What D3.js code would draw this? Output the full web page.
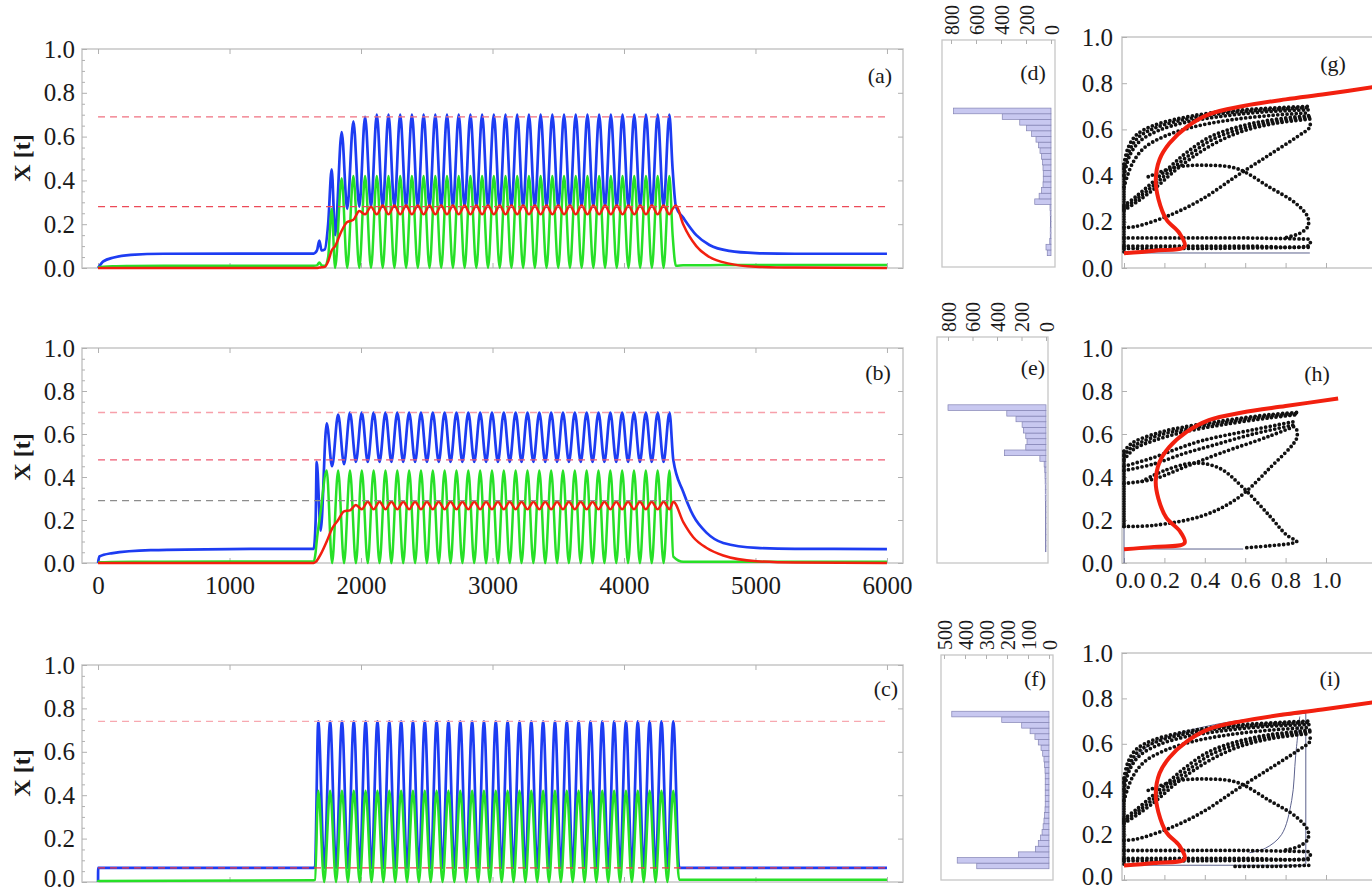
<!DOCTYPE html>
<html>
<head>
<meta charset="utf-8">
<script src="https://cdn.jsdelivr.net/npm/d3@7/dist/d3.min.js"></script>
<style>
  body { margin: 0; background: #fff; }
  svg text { font-family: "Liberation Serif", "Times New Roman", "DejaVu Serif", serif !important; fill: #1a1a1a; }
</style>
</head>
<body>
<div id="container"></div>
<script>
// ---- time series data ----
var tA = [0,40,120,250,500,1640,1665,1683,1700,1725,1750,1777,1803,1853,1895,1942,1987,2031,2076,
  2120,2165,2209,2254,2298,2343,2387,2432,2476,2521,2565,2610,2654,2699,2743,2788,2832,2877,2921,2966,
  3010,3055,3099,3144,3188,3233,3277,3322,3366,3411,3455,3500,3544,3589,3633,3678,3722,3767,3811,3856,
  3900,3945,3989,4034,4078,4123,4167,4212,4256,4301,4345,
  4370,4395,4450,4550,4650,4800,5000,5300,6000];
var blueA = [0,0.03,0.048,0.06,0.065,0.066,0.08,0.125,0.08,0.085,0.2,0.45,0.15,0.62,0.27,0.67,0.28,0.69,0.28,
  0.70,0.28,0.70,0.28,0.70,0.28,0.70,0.28,0.70,0.28,0.70,0.28,0.70,0.28,0.70,0.28,0.70,0.28,0.70,0.28,
  0.70,0.28,0.70,0.28,0.70,0.28,0.70,0.28,0.70,0.28,0.70,0.28,0.70,0.28,0.70,0.28,0.70,0.28,0.70,0.28,
  0.70,0.28,0.70,0.28,0.70,0.28,0.70,0.28,0.70,0.28,0.70,
  0.45,0.28,0.23,0.15,0.105,0.078,0.068,0.065,0.065];
var greenA = [0.003,0.006,0.008,0.009,0.01,0.01,0.012,0.025,0.012,0.01,0.05,0.27,0,0.41,0,0.42,0,0.42,0,
  0.42,0,0.42,0,0.42,0,0.42,0,0.42,0,0.42,0,0.42,0,0.42,0,0.42,0,0.42,0,
  0.42,0,0.42,0,0.42,0,0.42,0,0.42,0,0.42,0,0.42,0,0.42,0,0.42,0,0.42,0,
  0.42,0,0.42,0,0.42,0,0.42,0,0.42,0,0.42,
  0.15,0.01,0.012,0.013,0.013,0.014,0.014,0.014,0.014];
var redA = [0,0,0,0,0,0,0,0.002,0.003,0.005,0.03,0.08,0.1,0.17,0.21,0.22,0.26,0.245,0.28,
  0.245,0.285,0.245,0.285,0.245,0.285,0.245,0.285,0.245,0.285,0.245,0.285,0.245,0.285,0.245,0.285,0.245,0.285,0.245,0.285,
  0.245,0.285,0.245,0.285,0.245,0.285,0.245,0.285,0.245,0.285,0.245,0.285,0.245,0.285,0.245,0.285,0.245,0.285,0.245,0.285,
  0.245,0.285,0.245,0.285,0.245,0.285,0.245,0.285,0.245,0.285,0.245,
  0.27,0.285,0.2,0.1,0.05,0.02,0.006,0.002,0];

var tB = [0,10,100,400,1000,1640,1655,1663,1693,1739,1780,
  1826,1871,1916,1961,2006,2051,2096,2141,2186,2231,2276,2321,2366,2411,2456,2501,2546,2591,2636,2681,
  2726,2771,2816,2861,2906,2951,2996,3041,3086,3131,3176,3221,3266,3311,3356,3401,3446,3491,3536,3581,
  3626,3671,3716,3761,3806,3851,3896,3941,3986,4031,4076,4121,4166,4211,4256,4301,4346,
  4375,4451,4527,4629,4755,5009,5300,6000];
var blueB = [0,0.03,0.045,0.06,0.065,0.066,0.2,0.47,0.15,0.65,0.45,
  0.69,0.46,0.70,0.47,0.70,0.47,0.70,0.47,0.70,0.47,0.70,0.47,0.70,0.47,0.70,0.47,0.70,0.47,0.70,0.47,
  0.70,0.47,0.70,0.47,0.70,0.47,0.70,0.47,0.70,0.47,0.70,0.47,0.70,0.47,0.70,0.47,0.70,0.47,0.70,0.47,
  0.70,0.47,0.70,0.47,0.70,0.47,0.70,0.47,0.70,0.47,0.70,0.47,0.70,0.47,0.70,0.47,0.70,
  0.48,0.33,0.22,0.14,0.093,0.07,0.066,0.065];
var greenB = [0.002,0.003,0.005,0.006,0.007,0.007,0.05,0.1,0.24,0.43,0,
  0.43,0,0.43,0,0.43,0,0.43,0,0.43,0,0.43,0,0.43,0,0.43,0,0.43,0,0.43,0,
  0.43,0,0.43,0,0.43,0,0.43,0,0.43,0,0.43,0,0.43,0,0.43,0,0.43,0,0.43,0,
  0.43,0,0.43,0,0.43,0,0.43,0,0.43,0,0.43,0,0.43,0,0.43,0,0.43,
  0.03,0.006,0.006,0.006,0.006,0.006,0.006,0.006];
var redB = [0,0,0,0,0,0,0.005,0.01,0.04,0.1,0.16,
  0.2,0.24,0.245,0.27,0.25,0.285,0.25,0.285,0.25,0.285,0.25,0.285,0.25,0.285,0.25,0.285,0.25,0.285,0.25,0.285,
  0.25,0.285,0.25,0.285,0.25,0.285,0.25,0.285,0.25,0.285,0.25,0.285,0.25,0.285,0.25,0.285,0.25,0.285,0.25,0.285,
  0.25,0.285,0.25,0.285,0.25,0.285,0.25,0.285,0.25,0.285,0.25,0.285,0.25,0.285,0.25,0.285,0.25,
  0.285,0.19,0.12,0.07,0.035,0.008,0.002,0];

var tC = [0,1,1640,1650,
  1675,1720,1765,1810,1855,1900,1945,1990,2035,2080,2125,2170,2215,2260,2305,2350,2395,2440,2485,2530,
  2575,2620,2665,2710,2755,2800,2845,2890,2935,2980,3025,3070,3115,3160,3205,3250,3295,3340,3385,3430,
  3475,3520,3565,3610,3655,3700,3745,3790,3835,3880,3925,3970,4015,4060,4105,4150,4195,4240,4285,4330,4375,
  4420,6000];
var blueC = [0,0.065,0.065,0.07,
  0.74,0.065,0.74,0.065,0.74,0.065,0.74,0.065,0.74,0.065,0.74,0.065,0.74,0.065,0.74,0.065,0.74,0.065,0.74,0.065,
  0.74,0.065,0.74,0.065,0.74,0.065,0.74,0.065,0.74,0.065,0.74,0.065,0.74,0.065,0.74,0.065,0.74,0.065,0.74,0.065,
  0.74,0.065,0.74,0.065,0.74,0.065,0.74,0.065,0.74,0.065,0.74,0.065,0.74,0.065,0.74,0.065,0.74,0.065,0.74,0.065,0.74,
  0.065,0.065];
var greenC = [0,0.005,0.008,0.01,
  0.42,0,0.42,0,0.42,0,0.42,0,0.42,0,0.42,0,0.42,0,0.42,0,0.42,0,0.42,0,
  0.42,0,0.42,0,0.42,0,0.42,0,0.42,0,0.42,0,0.42,0,0.42,0,0.42,0,0.42,0,
  0.42,0,0.42,0,0.42,0,0.42,0,0.42,0,0.42,0,0.42,0,0.42,0,0.42,0,0.42,0,0.42,
  0.01,0.01];

// dashed reference levels
var refA = [0.69, 0.28], refColA = ["#f07080", "#ec4a58"];
var refB = [0.70, 0.48, 0.29], refColB = ["#f7a0aa", "#ee5a72", "#8c8c8c"];
var refC = [0.74, 0.065], refColC = ["#f7a8b0", "#ee3a48"];

// ---- histograms: bin lower edges (width 0.025) and counts ----
var binsD = [0.05,0.075,0.1,0.125,0.15,0.175,0.2,0.225,0.25,0.275,0.3,0.325,0.35,0.375,0.4,0.425,0.45,0.475,0.5,0.525,0.55,0.575,0.6,0.625,0.65,0.675];
var countD = [30,40,10,6,6,5,5,6,8,130,95,75,64,62,62,64,68,76,88,100,120,155,195,250,390,780];
var countE = [3,4,4,4,4,4,5,5,5,6,6,6,7,8,10,15,50,340,165,155,165,185,195,245,320,800];
var binsF = [0.05,0.075,0.1,0.125,0.15,0.175,0.2,0.225,0.25,0.275,0.3,0.325,0.35,0.375,0.4,0.425,0.45,0.475,0.5,0.525,0.55,0.575,0.6,0.625,0.65,0.675,0.7,0.725];
var countF = [344,437,146,65,51,40,33,28,24,21,19,18,18,18,18,18,18,19,21,24,30,38,51,67,90,130,225,463];

// ---- phase plane traces ----
var nullcline = [[0,0.064],[0.15,0.075],[0.30,0.093],[0.275,0.15],[0.21,0.21],[0.17,0.30],[0.157,0.38],[0.176,0.47],
  [0.225,0.54],[0.31,0.61],[0.42,0.665],[0.585,0.70],[0.80,0.73],[1.0,0.753],[1.25,0.785]];
var nullclineH = [[0,0.064],[0.15,0.075],[0.30,0.093],[0.275,0.15],[0.21,0.21],[0.17,0.30],[0.157,0.38],[0.176,0.47],
  [0.225,0.54],[0.31,0.61],[0.42,0.665],[0.585,0.70],[0.80,0.73],[1.06,0.765]];

var gTop1 = [[0,0.45],[0.02,0.52],[0.06,0.575],[0.14,0.615],[0.26,0.645],[0.42,0.67],[0.64,0.688],[0.92,0.70]];
var gTop1b = [[0,0.43],[0.025,0.505],[0.07,0.565],[0.15,0.605],[0.27,0.637],[0.43,0.663],[0.65,0.682],[0.92,0.695]];
var gTop2 = [[0,0.40],[0.03,0.49],[0.08,0.55],[0.17,0.595],[0.3,0.63],[0.47,0.655],[0.68,0.675],[0.92,0.685]];
var gTop3 = [[0,0.35],[0.04,0.45],[0.1,0.52],[0.2,0.57],[0.34,0.61],[0.52,0.64],[0.72,0.66],[0.92,0.672]];
var gMid1 = [[0,0.27],[0.06,0.31],[0.14,0.37],[0.23,0.44],[0.31,0.5],[0.42,0.565],[0.56,0.61],[0.72,0.64],[0.92,0.66]];
var gMid1b = [[0,0.26],[0.065,0.3],[0.15,0.36],[0.24,0.43],[0.325,0.49],[0.435,0.555],[0.57,0.6],[0.73,0.632],[0.92,0.653]];
var gMid2 = [[0,0.25],[0.07,0.29],[0.16,0.35],[0.25,0.42],[0.34,0.48],[0.45,0.54],[0.58,0.59],[0.74,0.625],[0.92,0.645]];
var gDiag = [[0,0.175],[0.06,0.18],[0.23,0.23],[0.39,0.30],[0.56,0.40],[0.72,0.49],[0.86,0.57],[0.92,0.61],[0.92,0.635]];
var gArc = [[0.12,0.395],[0.25,0.435],[0.4,0.445],[0.56,0.43],[0.72,0.35],[0.85,0.28],[0.91,0.22],[0.91,0.18],[0.87,0.15],[0.8,0.132]];
var gLow1 = [[0,0.13],[0.3,0.13],[0.6,0.13],[0.92,0.125]];
var gLow2 = [[0,0.095],[0.3,0.095],[0.6,0.095],[0.92,0.1],[0.92,0.12]];
var gLow3 = [[0,0.085],[0.4,0.085],[0.92,0.09]];
var gVert = [[0,0.07],[0,0.45]];
var gThin = [[[0,0.065],[0.92,0.065]]];

var hTop1 = [[0,0.52],[0.03,0.55],[0.063,0.57],[0.15,0.60],[0.228,0.62],[0.475,0.66],[0.72,0.69],[0.855,0.70]];
var hTop1b = [[0,0.50],[0.04,0.54],[0.08,0.56],[0.16,0.59],[0.24,0.61],[0.48,0.652],[0.72,0.683],[0.855,0.695]];
var hTop2 = [[0,0.48],[0.05,0.53],[0.15,0.57],[0.3,0.61],[0.5,0.645],[0.72,0.675],[0.855,0.69]];
var hMid1 = [[0,0.45],[0.145,0.49],[0.26,0.53],[0.39,0.57],[0.64,0.62],[0.855,0.66]];
var hMid2 = [[0,0.43],[0.145,0.46],[0.3,0.51],[0.45,0.55],[0.64,0.60],[0.855,0.645]];
var hLow = [[0,0.37],[0.145,0.39],[0.31,0.45],[0.475,0.51],[0.72,0.59],[0.855,0.64]];
var hArc = [[0.09,0.38],[0.2,0.43],[0.35,0.465],[0.475,0.44],[0.59,0.35],[0.72,0.22],[0.805,0.13],[0.855,0.10],[0.82,0.09],[0.72,0.08],[0.59,0.07]];
var hDiag = [[0,0.17],[0.145,0.175],[0.39,0.22],[0.56,0.30],[0.72,0.44],[0.855,0.58],[0.855,0.62]];
var hVert = [[0,0.17],[0,0.52]];
var hThin = [[[0,0.065],[0.59,0.065]], [[0,0],[0,0.52]]];

var iLow4 = [[0.55,0.06],[0.75,0.06],[0.92,0.065]];
var iThin = [
  [[0,0.07],[0,0.42],[0.03,0.5],[0.09,0.57],[0.2,0.625],[0.35,0.665],[0.55,0.7],[0.75,0.72],[0.9,0.735]],
  [[0.9,0.735],[0.9,0.07]],
  [[0,0.065],[0.9,0.065]],
  [[0.62,0.12],[0.7,0.14],[0.78,0.2],[0.83,0.35],[0.85,0.55],[0.87,0.72]]
];

var dotsG = [gTop1, gTop1b, gTop2, gTop3, gMid1, gMid1b, gMid2, gDiag, gArc, gLow1, gLow2, gLow3];
var dotsH = [hTop1, hTop1b, hTop2, hMid1, hMid2, hLow, hArc, hDiag];
var dotsI = [gTop1, gTop1b, gTop2, gTop3, gMid1, gMid1b, gMid2, gDiag, gArc, gLow1, gLow2, gLow3, iLow4];

var yTicks = [0, 0.2, 0.4, 0.6, 0.8, 1.0];
var yMinor = [0.05,0.1,0.15,0.25,0.3,0.35,0.45,0.5,0.55,0.65,0.7,0.75,0.85,0.9,0.95];
var tTicks = [0, 1000, 2000, 3000, 4000, 5000, 6000];
var pTicks = [0, 0.2, 0.4, 0.6, 0.8, 1.0];

// ---- drawing ----
var W = 1372, H = 893;
var svg = d3.select("#container").append("svg").attr("width", W).attr("height", H);
var serif = '"Liberation Serif", "Times New Roman", "DejaVu Serif", serif';
var frameCol = "#c6c6c6", tickCol = "#b0b0b0";
var f1 = d3.format(".1f");

var xT = d3.scaleLinear().domain([-122, 6122]).range([82, 903]);

function styleAxis(g, size) {
  g.attr("font-family", null);
  g.select(".domain").remove();
  g.selectAll(".tick line").attr("stroke", tickCol);
  g.selectAll(".tick text").style("font-size", size + "px").style("font-family", serif).attr("fill", "#1a1a1a");
}

function label(g, x, y, txt, size, bold) {
  return g.append("text").attr("x", x).attr("y", y).attr("text-anchor", "middle").attr("dy", "0.35em")
    .style("font-family", serif).style("font-size", size + "px").style("font-weight", bold ? "bold" : "normal")
    .text(txt);
}

function drawSeries(p) {
  var y = d3.scaleLinear().domain([0, 1]).range([p.y0, p.y1]);
  var g = svg.append("g");
  g.append("rect").attr("x", 82).attr("y", p.y1).attr("width", 903 - 82).attr("height", p.y0 - p.y1)
    .attr("fill", "none").attr("stroke", frameCol).attr("stroke-width", 1.5);

  var ya = g.append("g").attr("transform", "translate(82,0)")
    .call(d3.axisLeft(y).tickValues(yTicks).tickFormat(f1).tickSize(-5).tickPadding(7));
  styleAxis(ya, 25);
  if (p.lowLab) ya.selectAll(".tick text").filter(function(d) { return d === 0; }).attr("dy", "0.18em");
  var ym = g.append("g").attr("transform", "translate(82,0)")
    .call(d3.axisLeft(y).tickValues(yMinor).tickFormat("").tickSize(-3));
  styleAxis(ym, 1);
  var yr = g.append("g").attr("transform", "translate(903,0)")
    .call(d3.axisRight(y).tickValues(yTicks).tickFormat("").tickSize(-5));
  styleAxis(yr, 1);

  var xa = g.append("g").attr("transform", "translate(0," + p.y0 + ")")
    .call(d3.axisBottom(xT).tickValues(tTicks).tickFormat(p.xlabels ? d3.format("d") : "").tickSize(-5));
  styleAxis(xa, 25);
  xa.selectAll(".tick text").attr("y", 22).attr("dy", "0.35em");
  var xt = g.append("g").attr("transform", "translate(0," + p.y1 + ")")
    .call(d3.axisTop(xT).tickValues(tTicks).tickFormat("").tickSize(-5));
  styleAxis(xt, 1);

  var line = d3.line().x(function(d) { return xT(d[0]); }).y(function(d) { return y(d[1]); })
    .curve(d3.curveMonotoneX);

  g.append("path").datum(d3.zip(p.t, p.blue)).attr("d", line)
    .attr("fill", "none").attr("stroke", "#1d3cf2").attr("stroke-width", 2.7);
  g.append("path").datum(d3.zip(p.t, p.green)).attr("d", line)
    .attr("fill", "none").attr("stroke", "#27e027").attr("stroke-width", 2.5);
  if (p.red) {
    g.append("path").datum(d3.zip(p.t, p.red)).attr("d", line)
      .attr("fill", "none").attr("stroke", "#f2200f").attr("stroke-width", 2.5);
  }

  g.selectAll(".ref").data(p.refs).enter().append("line")
    .attr("x1", xT(0)).attr("x2", xT(6000))
    .attr("y1", function(d) { return y(d); }).attr("y2", function(d) { return y(d); })
    .attr("stroke", function(d, i) { return p.refCol[i]; })
    .attr("stroke-width", 1.3).attr("stroke-dasharray", "7,5");

  label(g, p.labX, p.labY, p.lab, 22, false);
  label(g, 0, 0, "X [t]", 24, true).attr("transform", "translate(22," + p.ylabY + ") rotate(-90)");
}

function drawHist(p) {
  var y = d3.scaleLinear().domain([0, 1]).range([p.y0, p.y1]);
  var x = d3.scaleLinear().domain([0, p.max]).range([p.zx, p.mx]);
  var g = svg.append("g");
  g.append("rect").attr("x", p.fx0).attr("y", p.y1).attr("width", p.fx1 - p.fx0).attr("height", p.y0 - p.y1)
    .attr("fill", "none").attr("stroke", frameCol).attr("stroke-width", 1.3);

  g.selectAll(".bar").data(d3.zip(p.bins, p.counts)).enter().append("rect")
    .attr("x", function(d) { return x(d[1]); })
    .attr("width", function(d) { return x(0) - x(d[1]); })
    .attr("y", function(d) { return y(d[0] + 0.025); })
    .attr("height", function(d) { return y(d[0]) - y(d[0] + 0.025); })
    .attr("fill", "#c8c8f0").attr("stroke", "#8484b4").attr("stroke-width", 0.7);

  var xa = g.append("g").attr("transform", "translate(0," + p.y1 + ")")
    .call(d3.axisTop(x).tickValues(p.ticks).tickSize(-4));
  styleAxis(xa, 20);
  xa.selectAll(".tick text").attr("transform", "rotate(-90)").attr("text-anchor", "start")
    .attr("x", 5).attr("y", 0).attr("dy", "0.35em");

  label(g, p.labX, p.labY, p.lab, 22, false);
}

var xP = d3.scaleLinear().domain([0, 1]).range([1124, 1326]);

function drawPhase(p) {
  var y = d3.scaleLinear().domain([0, 1]).range([p.y0, p.y1]);
  var g = svg.append("g");
  g.append("rect").attr("x", 1122).attr("y", p.y1).attr("width", 320).attr("height", p.y0 - p.y1)
    .attr("fill", "none").attr("stroke", frameCol).attr("stroke-width", 1.5);

  var ya = g.append("g").attr("transform", "translate(1122,0)")
    .call(d3.axisLeft(y).tickValues(yTicks).tickFormat(f1).tickSize(-5).tickPadding(9));
  styleAxis(ya, 25);
  if (p.lowLab) ya.selectAll(".tick text").filter(function(d) { return d === 0; }).attr("dy", "0.18em");
  var xa = g.append("g").attr("transform", "translate(0," + p.y0 + ")")
    .call(d3.axisBottom(xP).tickValues(pTicks).tickFormat(p.xlabels ? f1 : "").tickSize(-5));
  styleAxis(xa, 24);
  xa.selectAll(".tick text").attr("y", 17).attr("dy", "0.35em")
    .attr("dx", function(d, i) { return i === 0 ? 6 : 0; });

  var curve = d3.line().x(function(d) { return xP(d[0]); }).y(function(d) { return y(d[1]); })
    .curve(d3.curveCatmullRom.alpha(0.5));

  g.selectAll(".thin").data(p.thin).enter().append("path")
    .attr("d", curve).attr("fill", "none").attr("stroke", "#4a5080").attr("stroke-width", 0.9);

  g.append("path").datum(p.vert).attr("d", curve).attr("fill", "none")
    .attr("stroke", "#111").attr("stroke-width", 3.8).attr("stroke-linecap", "round")
    .attr("stroke-dasharray", "0,2.5");

  g.selectAll(".dots").data(p.dots).enter().append("path")
    .attr("d", curve).attr("fill", "none").attr("stroke", "#111").attr("stroke-width", 3.8)
    .attr("stroke-linecap", "round").attr("stroke-dasharray", "0,4.6");

  g.append("path").datum(p.red).attr("d", curve).attr("fill", "none")
    .attr("stroke", "#f2200f").attr("stroke-width", 4);

  label(g, p.labX, p.labY, p.lab, 22, false);
}

drawSeries({t: tA, blue: blueA, green: greenA, red: redA, refs: refA, refCol: refColA,
  y0: 268, y1: 49, lab: "(a)", labX: 880, labY: 75, ylabY: 158, xlabels: false});
drawSeries({t: tB, blue: blueB, green: greenB, red: redB, refs: refB, refCol: refColB,
  y0: 563, y1: 348, lab: "(b)", labX: 878, labY: 372, ylabY: 457, xlabels: true});
drawSeries({t: tC, blue: blueC, green: greenC, red: null, refs: refC, refCol: refColC,
  y0: 882, y1: 665, lab: "(c)", labX: 886, labY: 688, ylabY: 773, xlabels: false, lowLab: true});

drawHist({bins: binsD, counts: countD, max: 800, ticks: [0, 200, 400, 600, 800], zx: 1051, mx: 951,
  fx0: 942, fx1: 1055, y0: 267, y1: 40, lab: "(d)", labX: 1033, labY: 72});
drawHist({bins: binsD, counts: countE, max: 800, ticks: [0, 200, 400, 600, 800], zx: 1046, mx: 948,
  fx0: 937, fx1: 1048, y0: 563, y1: 337, lab: "(e)", labX: 1033, labY: 367});
drawHist({bins: binsF, counts: countF, max: 500, ticks: [0, 100, 200, 300, 400, 500], zx: 1049, mx: 944,
  fx0: 941, fx1: 1053, y0: 880, y1: 655, lab: "(f)", labX: 1035, labY: 678});

drawPhase({dots: dotsG, vert: gVert, thin: gThin, red: nullcline, y0: 268, y1: 37, lab: "(g)", labX: 1333, labY: 63, xlabels: false});
drawPhase({dots: dotsH, vert: hVert, thin: hThin, red: nullclineH, y0: 563, y1: 348, lab: "(h)", labX: 1317, labY: 373, xlabels: true});
drawPhase({dots: dotsI, vert: gVert, thin: iThin, red: nullcline, y0: 880, y1: 653, lab: "(i)", labX: 1330, labY: 678, xlabels: false, lowLab: true});
</script>
</body>
</html>
